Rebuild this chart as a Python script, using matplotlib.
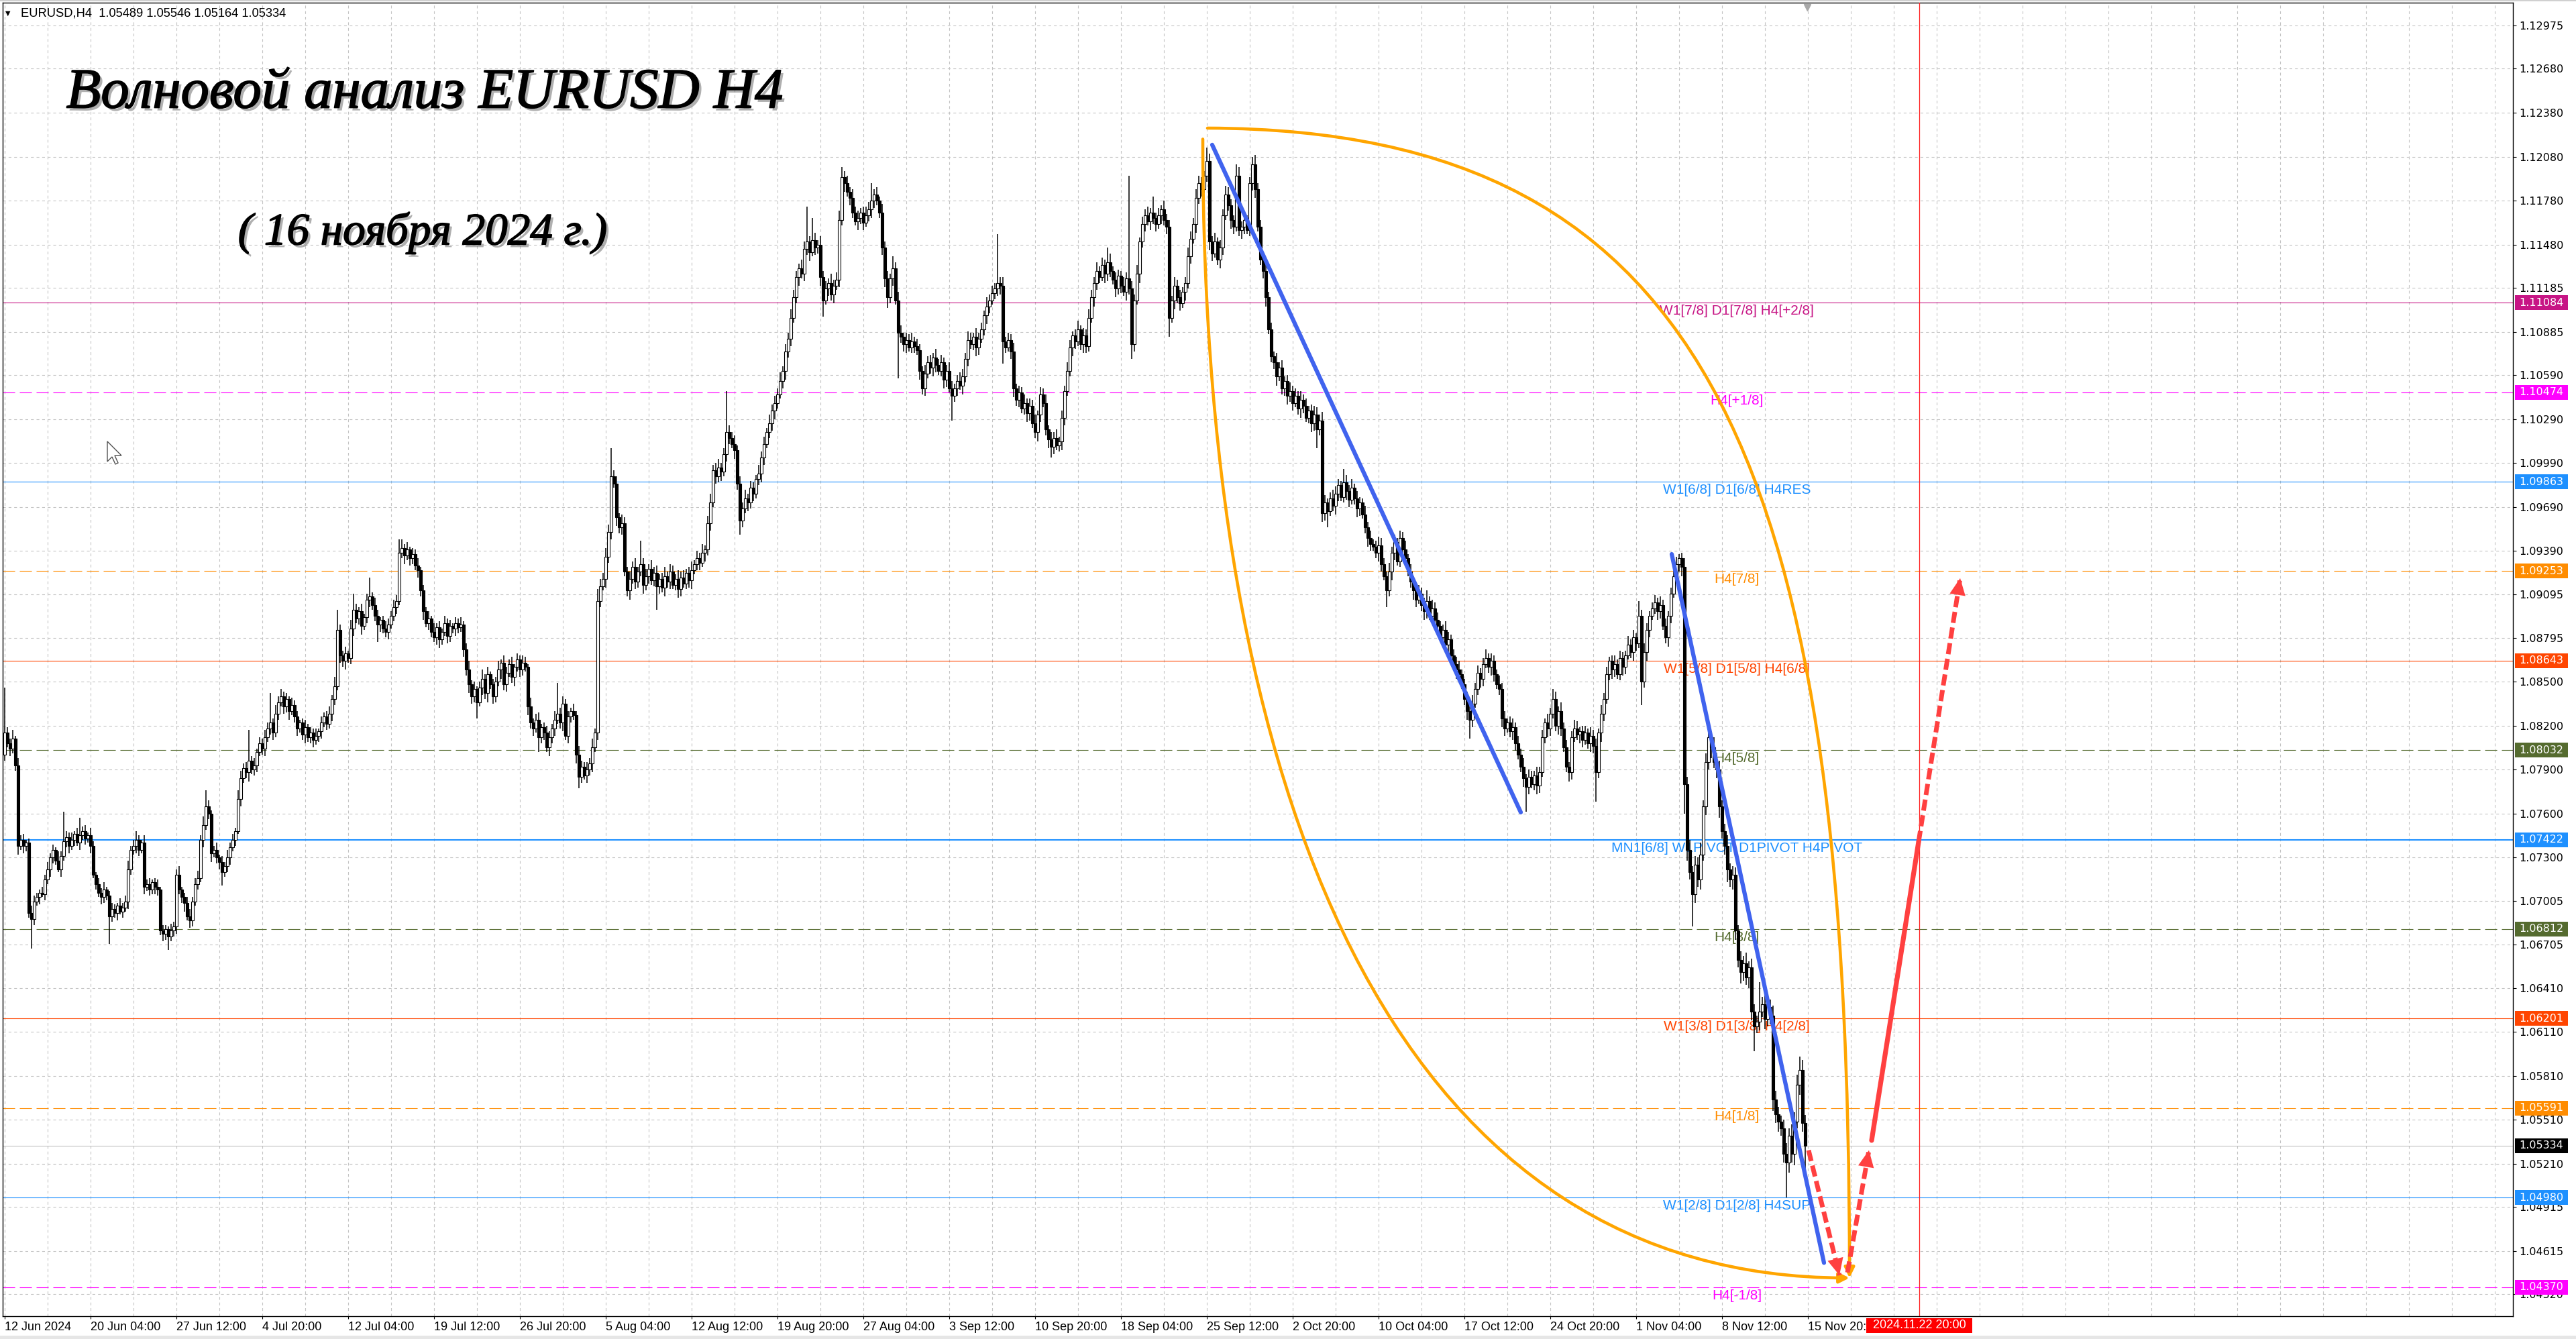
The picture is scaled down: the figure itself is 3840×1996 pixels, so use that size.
import numpy as np
import matplotlib
matplotlib.use("Agg")
import matplotlib.pyplot as plt
import matplotlib.patheffects as pe
import matplotlib.transforms as mtransforms
from matplotlib.path import Path
from matplotlib.patches import FancyArrowPatch, Rectangle, Polygon

plt.rcParams['lines.scale_dashes'] = False

# ------------------------------------------------------------------ data
HEADER = "EURUSD,H4  1.05489 1.05546 1.05164 1.05334"
TITLE = "Волновой анализ EURUSD H4"
SUBTITLE = "( 16 ноября 2024 г.)"
LAST_OHLC = [1.05489, 1.05546, 1.05164, 1.05334]
FIRST_OPEN_PIPS = 800          # price = 1 + pips/10000

# H4 closes (pips above 1.0000), one bar per 4 hours, 12 Jun 2024 .. 15 Nov 2024
CLOSE_PIPS = [
    815, 808, 804, 811, 793, 738, 742, 738, 740, 692, 688, 700, 703, 706, 705, 715, 722, 730, 735, 728, 722, 731, 741, 744,
    738, 742, 746, 740, 745, 748, 743, 745, 738, 718, 712, 706, 703, 708, 704, 690, 695, 692, 697, 693, 696, 700, 722, 735,
    738, 742, 735, 740, 710, 712, 708, 713, 710, 708, 680, 678, 681, 676, 680, 683, 718, 708, 703, 699, 690, 687, 700, 712,
    716, 742, 752, 765, 760, 733, 735, 730, 727, 720, 724, 730, 737, 742, 748, 770, 784, 791, 788, 796, 790, 793, 802, 808,
    804, 812, 818, 822, 815, 828, 836, 840, 833, 838, 830, 834, 826, 818, 822, 814, 819, 812, 815, 810, 813, 816, 822, 826,
    821, 828, 838, 847, 885, 868, 864, 869, 866, 886, 899, 893, 898, 888, 894, 906, 908, 902, 895, 889, 892, 886, 884, 889,
    895, 901, 905, 938, 941, 936, 940, 934, 937, 929, 926, 912, 898, 890, 893, 884, 880, 887, 879, 884, 890, 881, 888, 886,
    890, 887, 889, 872, 858, 848, 840, 845, 836, 846, 852, 842, 855, 848, 840, 850, 858, 863, 848, 856, 862, 853, 860, 865,
    858, 863, 860, 833, 822, 818, 824, 812, 819, 815, 805, 812, 818, 824, 828, 822, 835, 813, 826, 830, 827, 800, 785, 792,
    786, 790, 794, 805, 815, 905, 915, 920, 935, 952, 990, 985, 962, 955, 958, 925, 912, 920, 928, 918, 925, 930, 916, 922,
    927, 919, 924, 915, 920, 914, 922, 918, 925, 916, 920, 913, 921, 917, 924, 919, 926, 930, 934, 931, 938, 940, 958, 972,
    994, 990, 996, 993, 1005, 1020, 1016, 1012, 1008, 985, 960, 968, 975, 972, 982, 978, 988, 992, 1003, 1012, 1020, 1026, 1035, 1040,
    1046, 1055, 1062, 1075, 1084, 1098, 1112, 1126, 1132, 1128, 1145, 1150, 1143, 1151, 1146, 1148, 1126, 1110, 1118, 1122, 1114, 1120, 1124, 1165,
    1194, 1190, 1184, 1180, 1170, 1164, 1166, 1170, 1163, 1168, 1172, 1178, 1182, 1178, 1170, 1146, 1125, 1112, 1125, 1132, 1110, 1088, 1085, 1080,
    1083, 1078, 1082, 1079, 1076, 1062, 1050, 1060, 1068, 1064, 1071, 1066, 1062, 1068, 1056, 1062, 1050, 1045, 1050, 1055, 1052, 1058, 1070, 1083,
    1080, 1085, 1078, 1084, 1090, 1100, 1106, 1110, 1115, 1118, 1122, 1120, 1082, 1078, 1083, 1075, 1050, 1042, 1047, 1036, 1040, 1033, 1038, 1026,
    1020, 1032, 1046, 1040, 1022, 1015, 1010, 1016, 1011, 1014, 1030, 1048, 1062, 1078, 1086, 1082, 1090, 1080, 1086, 1079, 1098, 1112, 1122, 1130,
    1126, 1134, 1128, 1136, 1130, 1124, 1118, 1127, 1120, 1116, 1125, 1118, 1080, 1110, 1128, 1150, 1162, 1168, 1164, 1170, 1166, 1162, 1168, 1172,
    1165, 1160, 1098, 1110, 1120, 1112, 1108, 1116, 1122, 1140, 1152, 1162, 1180, 1190, 1186, 1195, 1205, 1150, 1142, 1150, 1138, 1146, 1168, 1182,
    1175, 1165, 1160, 1195, 1158, 1160, 1165, 1158, 1190, 1203, 1186, 1160, 1138, 1130, 1112, 1090, 1072, 1068, 1058, 1064, 1050, 1055, 1045, 1048,
    1040, 1045, 1036, 1042, 1038, 1030, 1035, 1026, 1032, 1022, 1028, 965, 972, 966, 975, 970, 978, 984, 976, 986, 980, 974, 982, 975,
    968, 972, 964, 955, 948, 944, 942, 938, 943, 930, 922, 912, 925, 938, 945, 932, 948, 940, 934, 925, 918, 912, 906, 910,
    902, 898, 905, 895, 900, 892, 888, 880, 885, 875, 879, 868, 862, 858, 855, 848, 838, 830, 824, 835, 845, 856, 852, 862,
    866, 860, 864, 855, 848, 845, 825, 818, 822, 816, 819, 808, 800, 792, 784, 778, 785, 780, 786, 779, 788, 812, 822, 818,
    828, 838, 820, 830, 818, 805, 792, 788, 812, 818, 814, 816, 810, 815, 808, 813, 806, 788, 815, 828, 838, 855, 864, 858,
    862, 855, 866, 860, 868, 875, 870, 880, 876, 895, 850, 870, 885, 895, 900, 904, 898, 902, 888, 880, 895, 910, 922, 930,
    934, 928, 780, 735, 720, 705, 725, 715, 732, 765, 795, 812, 805, 795, 790, 765, 748, 738, 722, 715, 718, 680, 660, 652,
    658, 648, 655, 625, 615, 618, 625, 630, 620, 628, 622, 565, 555, 550, 545, 528, 522, 540, 528, 550, 575, 585, 548.9, 533.4,
]
# upper / lower shadow beyond the body, in pips
WICK_UP_PIPS = [
    31, 4, 3, 6, 2, 5, 3, 4, 2, 3, 5, 4, 3, 2, 4, 3, 5, 3, 4, 2, 6, 3, 20, 4,
    3, 5, 2, 4, 12, 3, 4, 2, 5, 3, 2, 4, 3, 5, 2, 3, 4, 3, 2, 5, 3, 4, 6, 3,
    4, 6, 3, 2, 5, 3, 4, 2, 3, 5, 2, 4, 3, 2, 5, 3, 4, 6, 2, 3, 4, 5, 3, 4,
    5, 3, 6, 11, 4, 2, 3, 5, 2, 4, 3, 5, 3, 4, 2, 6, 5, 3, 4, 21, 3, 5, 2, 4,
    3, 5, 4, 20, 3, 6, 4, 5, 3, 4, 2, 5, 3, 4, 2, 3, 5, 2, 4, 3, 5, 2, 4, 3,
    4, 5, 3, 6, 14, 4, 3, 5, 2, 6, 11, 4, 3, 5, 2, 4, 13, 3, 5, 4, 2, 3, 5, 4,
    3, 5, 4, 9, 6, 3, 5, 2, 4, 3, 5, 2, 4, 3, 5, 2, 6, 3, 4, 2, 5, 3, 4, 2,
    4, 3, 5, 2, 4, 6, 3, 5, 2, 4, 6, 3, 5, 2, 4, 3, 6, 2, 5, 4, 3, 5, 2, 4,
    3, 5, 4, 2, 6, 3, 4, 5, 2, 3, 5, 4, 3, 6, 21, 4, 5, 3, 4, 2, 5, 3, 6, 4,
    3, 5, 4, 6, 3, 8, 5, 4, 6, 5, 19, 4, 5, 3, 6, 4, 3, 5, 4, 6, 3, 16, 4, 5,
    3, 6, 4, 5, 3, 4, 6, 3, 5, 4, 3, 6, 4, 5, 3, 4, 6, 3, 5, 4, 6, 3, 5, 6,
    4, 5, 6, 3, 4, 28, 5, 4, 6, 3, 5, 4, 6, 3, 5, 4, 3, 6, 4, 5, 3, 6, 4, 5,
    4, 6, 3, 5, 4, 6, 5, 4, 3, 6, 5, 24, 4, 15, 5, 3, 6, 4, 5, 3, 6, 4, 5, 6,
    7, 4, 5, 3, 6, 4, 5, 3, 4, 6, 5, 12, 4, 5, 3, 6, 4, 5, 3, 8, 4, 6, 5, 3,
    5, 4, 6, 3, 5, 4, 3, 6, 4, 5, 3, 6, 4, 5, 3, 4, 6, 5, 3, 4, 6, 5, 4, 6,
    5, 3, 6, 4, 5, 3, 6, 4, 5, 4, 33, 4, 6, 3, 5, 4, 6, 3, 5, 4, 6, 3, 5, 4,
    6, 3, 5, 4, 6, 3, 5, 4, 6, 3, 5, 4, 6, 5, 3, 4, 6, 3, 5, 4, 6, 5, 4, 6,
    3, 5, 4, 10, 6, 3, 5, 4, 3, 6, 4, 70, 5, 4, 6, 3, 5, 4, 6, 3, 11, 4, 5, 3,
    6, 4, 5, 3, 6, 4, 5, 3, 4, 6, 5, 4, 6, 5, 4, 3, 9, 5, 4, 6, 3, 5, 4, 6,
    5, 4, 3, 8, 6, 4, 5, 3, 4, 5, 6, 4, 5, 3, 6, 4, 5, 3, 6, 4, 5, 3, 4, 6,
    4, 5, 3, 6, 4, 5, 3, 4, 6, 5, 4, 6, 5, 3, 4, 6, 5, 4, 3, 9, 5, 4, 6, 3,
    5, 4, 3, 6, 4, 5, 3, 4, 6, 5, 4, 3, 6, 4, 5, 3, 5, 4, 6, 3, 5, 4, 3, 6,
    4, 5, 7, 3, 6, 4, 5, 3, 4, 6, 5, 3, 4, 5, 6, 3, 4, 5, 3, 6, 4, 5, 3, 4,
    6, 3, 5, 4, 3, 6, 4, 5, 3, 4, 6, 3, 5, 4, 6, 3, 5, 4, 3, 6, 4, 5, 3, 6,
    4, 7, 5, 3, 6, 4, 5, 3, 4, 6, 5, 3, 4, 5, 3, 6, 4, 5, 3, 6, 4, 5, 3, 4,
    6, 3, 5, 4, 3, 6, 4, 5, 3, 10, 4, 6, 5, 3, 4, 5, 3, 6, 4, 5, 3, 4, 6, 5,
    3, 4, 6, 5, 7, 4, 6, 5, 8, 4, 6, 5, 4, 7, 5, 6, 4, 5, 7, 4, 6, 5, 4, 6,
    5, 7, 4, 6, 5, 4, 20, 5, 6, 4, 5, 7, 6, 5, 4, 6, 7, 5, 8, 6, 7, 9, 7, 6,
]
WICK_DN_PIPS = [
    4, 3, 5, 3, 4, 6, 3, 5, 4, 3, 20, 4, 3, 5, 2, 4, 3, 5, 4, 3, 2, 5, 3, 4,
    5, 3, 4, 2, 5, 3, 4, 3, 5, 2, 4, 3, 5, 4, 3, 19, 4, 3, 5, 2, 4, 3, 5, 4,
    3, 5, 4, 2, 5, 3, 4, 3, 5, 4, 3, 5, 4, 9, 3, 4, 5, 3, 4, 6, 3, 5, 4, 3,
    4, 3, 5, 3, 4, 6, 3, 4, 5, 9, 3, 4, 5, 3, 4, 2, 5, 3, 4, 6, 3, 4, 5, 3,
    4, 5, 3, 4, 5, 3, 4, 3, 5, 4, 6, 3, 4, 5, 3, 4, 6, 3, 4, 5, 3, 4, 5, 3,
    4, 3, 5, 4, 3, 5, 4, 6, 3, 4, 5, 3, 4, 6, 3, 4, 5, 3, 4, 12, 5, 3, 4, 5,
    3, 4, 5, 3, 4, 6, 3, 5, 4, 3, 5, 4, 6, 3, 5, 4, 3, 5, 6, 4, 3, 5, 4, 3,
    5, 4, 3, 5, 4, 6, 5, 4, 11, 3, 5, 4, 6, 3, 5, 4, 3, 6, 4, 5, 3, 4, 6, 3,
    5, 4, 3, 6, 4, 5, 3, 10, 4, 5, 3, 6, 4, 5, 3, 4, 6, 3, 5, 4, 3, 6, 8, 4,
    3, 5, 4, 6, 3, 5, 4, 3, 6, 4, 5, 3, 6, 4, 5, 3, 4, 6, 3, 5, 4, 3, 6, 4,
    5, 3, 4, 16, 5, 3, 6, 4, 5, 3, 4, 6, 5, 3, 4, 5, 6, 3, 4, 5, 3, 6, 4, 5,
    3, 5, 4, 6, 3, 5, 4, 3, 6, 4, 10, 5, 3, 6, 4, 5, 3, 4, 6, 5, 3, 4, 5, 6,
    4, 3, 5, 6, 4, 5, 3, 4, 6, 3, 5, 4, 6, 3, 5, 4, 6, 11, 3, 5, 4, 6, 3, 5,
    4, 6, 3, 5, 4, 3, 6, 4, 5, 3, 4, 6, 5, 3, 4, 5, 6, 7, 4, 5, 3, 31, 4, 5,
    6, 3, 4, 5, 3, 6, 4, 5, 3, 4, 6, 5, 3, 4, 6, 5, 3, 17, 4, 5, 3, 6, 4, 5,
    3, 4, 6, 5, 3, 4, 6, 5, 3, 4, 5, 6, 15, 4, 3, 5, 6, 4, 5, 3, 4, 6, 5, 3,
    4, 6, 5, 3, 4, 6, 7, 5, 3, 4, 6, 5, 3, 4, 6, 5, 3, 4, 6, 5, 4, 3, 6, 5,
    4, 3, 6, 5, 4, 3, 6, 4, 5, 3, 6, 4, 10, 5, 3, 6, 4, 5, 3, 6, 4, 5, 3, 6,
    4, 5, 13, 3, 6, 4, 5, 3, 6, 4, 5, 3, 6, 4, 5, 3, 4, 6, 5, 3, 4, 6, 5, 3,
    4, 6, 5, 3, 4, 6, 5, 3, 4, 5, 6, 3, 4, 5, 6, 3, 4, 5, 6, 3, 4, 5, 6, 4,
    5, 3, 4, 6, 5, 3, 4, 6, 5, 13, 4, 6, 5, 11, 3, 4, 6, 5, 3, 4, 6, 5, 3, 4,
    6, 5, 3, 4, 6, 5, 3, 4, 6, 5, 3, 11, 4, 6, 5, 3, 4, 6, 5, 3, 4, 6, 5, 3,
    4, 6, 5, 3, 4, 6, 5, 3, 4, 6, 5, 3, 4, 6, 5, 3, 4, 6, 13, 5, 3, 4, 6, 5,
    3, 4, 6, 5, 3, 4, 6, 5, 3, 4, 6, 5, 3, 4, 6, 17, 5, 3, 4, 6, 5, 3, 4, 6,
    5, 3, 4, 6, 5, 3, 4, 6, 5, 3, 4, 6, 5, 3, 4, 6, 5, 20, 4, 6, 5, 3, 4, 6,
    5, 3, 4, 6, 5, 3, 4, 6, 5, 3, 16, 4, 6, 5, 3, 4, 6, 5, 3, 4, 6, 5, 3, 4,
    5, 6, 20, 7, 5, 22, 6, 5, 7, 4, 6, 5, 7, 4, 6, 8, 5, 6, 9, 5, 7, 6, 5, 8,
    6, 5, 7, 6, 17, 5, 6, 4, 7, 5, 6, 8, 6, 7, 5, 6, 24, 7, 6, 8, 5, 7, 6, 17,
]

X_LABELS = ["12 Jun 2024", "20 Jun 04:00", "27 Jun 12:00", "4 Jul 20:00", "12 Jul 04:00",
            "19 Jul 12:00", "26 Jul 20:00", "5 Aug 04:00", "12 Aug 12:00", "19 Aug 20:00",
            "27 Aug 04:00", "3 Sep 12:00", "10 Sep 20:00", "18 Sep 04:00", "25 Sep 12:00",
            "2 Oct 20:00", "10 Oct 04:00", "17 Oct 12:00", "24 Oct 20:00", "1 Nov 04:00",
            "8 Nov 12:00", "15 Nov 20:00"]
BARS_PER_LABEL = 32

Y_TICKS = [1.12975, 1.12680, 1.12380, 1.12080, 1.11780, 1.11480, 1.11185, 1.10885, 1.10590,
           1.10290, 1.09990, 1.09690, 1.09390, 1.09095, 1.08795, 1.08500, 1.08200, 1.07900,
           1.07600, 1.07300, 1.07005, 1.06705, 1.06410, 1.06110, 1.05810, 1.05510, 1.05210,
           1.04915, 1.04615, 1.04320]

LEVEL_PRICES = [1.11084, 1.10474, 1.09863, 1.09253, 1.08643, 1.08032, 1.07422,
                1.06812, 1.06201, 1.05591, 1.04980, 1.04370]
LEVEL_NAMES = ["W1[7/8] D1[7/8] H4[+2/8]", "H4[+1/8]", "W1[6/8] D1[6/8] H4RES", "H4[7/8]",
               "W1[5/8] D1[5/8] H4[6/8]", "H4[5/8]", "MN1[6/8] W1PIVOT D1PIVOT H4PIVOT",
               "H4[3/8]", "W1[3/8] D1[3/8] H4[2/8]", "H4[1/8]", "W1[2/8] D1[2/8] H4SUP", "H4[-1/8]"]
LEVEL_COLORS = ["#C71585", "#FF00FF", "#1E90FF", "#FF8C00", "#FF4500", "#556B2F", "#1E90FF",
                "#556B2F", "#FF4500", "#FF8C00", "#1E90FF", "#FF00FF"]
LEVEL_DASHED = [False, True, False, True, False, True, False, True, False, True, False, True]
LEVEL_LW = [0.8, 0.8, 0.8, 0.8, 0.8, 0.8, 1.5, 0.8, 0.8, 0.8, 0.8, 0.8]
LABEL_BAR = 645.5

BID_PRICE = 1.05334
FUTURE_DATE_LABEL = "2024.11.22 20:00"
FUTURE_DATE_BAR = 713.5

# hand-drawn chart objects, (bar index, price)
TREND_1 = [(450.0, 1.12161), (565.0, 1.07608)]
TREND_2 = [(621.25, 1.09369), (678.0, 1.04535)]
ARC_OUTER = [(448.25, 1.12275), (638.25, 1.12265), (687.5, 1.09923), (687.5, 1.04432)]
ARC_INNER = [(446.5, 1.12200), (446.5, 1.07447), (525.0, 1.04432), (687.5, 1.04432)]
RED_DOWN = [(672.25, 1.05303), (683.75, 1.04450)]
RED_UP = [(686.75, 1.04469), (694.75, 1.05303)]
RED_MAIN_SOLID = [(695.75, 1.05370), (713.25, 1.07406)]
RED_MAIN_DASH = [(713.25, 1.07406), (728.75, 1.09205)]

# ------------------------------------------------------------------ figure
W, H, DPI = 3840, 1996, 100
fig = plt.figure(figsize=(W / DPI, H / DPI), dpi=DPI, facecolor="white")
PL, PR, PT, PB = 4, 3746, 4, 1962
ax = fig.add_axes([PL / W, 1 - PB / H, (PR - PL) / W, (PB - PT) / H])
ax.set_xlim(-0.75, 934.75)
ax.set_ylim(1.04171, 1.131306)
ax.set_facecolor("white")
for s in ax.spines.values():
    s.set_color("black")
    s.set_linewidth(1.0)

GRID_C = "#C4C4C4"
for yv in Y_TICKS:
    ax.axhline(yv, color=GRID_C, lw=0.8, ls=(0, (3, 3)), zorder=1)
for xv in range(0, 935, BARS_PER_LABEL // 2):
    ax.axvline(xv, color=GRID_C, lw=0.8, ls=(0, (3, 3)), zorder=1)

# level lines + names
lab_tr = mtransforms.offset_copy(ax.transData, fig=fig, y=-3, units="dots")
for p, nm, c, d, lw in zip(LEVEL_PRICES, LEVEL_NAMES, LEVEL_COLORS, LEVEL_DASHED, LEVEL_LW):
    ax.axhline(p, color=c, lw=lw, ls=(0, (13, 5)) if d else "-", zorder=2)
    ax.text(LABEL_BAR, p, nm, color=c, fontsize=15, family="Liberation Sans",
            ha="center", va="top", transform=lab_tr, zorder=2.5)
ax.axhline(BID_PRICE, color="#C0C0C0", lw=0.8, zorder=2)

# candles
n = min(len(CLOSE_PIPS), len(WICK_UP_PIPS), len(WICK_DN_PIPS))
close = 1 + np.array(CLOSE_PIPS[:n], float) / 1e4
opn = np.r_[1 + FIRST_OPEN_PIPS / 1e4, close[:-1]]
opn[-1], close[-1] = LAST_OHLC[0], LAST_OHLC[3]
high = np.maximum(opn, close) + np.array(WICK_UP_PIPS[:n]) / 1e4
low = np.minimum(opn, close) - np.array(WICK_DN_PIPS[:n]) / 1e4
high[-1], low[-1] = LAST_OHLC[1], LAST_OHLC[2]
xb = np.arange(n)
ax.vlines(xb, low, high, color="black", lw=1.1, zorder=3)
bull = close >= opn
body_h = np.maximum(np.abs(close - opn), 0.00005)
bottoms = np.minimum(opn, close)
ax.bar(xb[bull], body_h[bull], bottom=bottoms[bull], width=0.78, facecolor="white",
       edgecolor="black", linewidth=0.8, zorder=3.2)
ax.bar(xb[~bull], body_h[~bull], bottom=bottoms[~bull], width=0.78, facecolor="black",
       edgecolor="black", linewidth=0.8, zorder=3.2)

# red vertical (future time marker)
ax.axvline(FUTURE_DATE_BAR, color="#FF2020", lw=0.9, zorder=2.6)

# blue trend lines
BLUE = "#4063EE"
for tl in (TREND_1, TREND_2):
    ax.plot([tl[0][0], tl[1][0]], [tl[0][1], tl[1][1]], color=BLUE, lw=4.5,
            solid_capstyle="round", zorder=5)

# orange arcs with arrowheads
ORANGE = "#FFA500"
for pts in (ARC_OUTER, ARC_INNER):
    path = Path(pts, [Path.MOVETO, Path.CURVE4, Path.CURVE4, Path.CURVE4])
    ax.add_patch(FancyArrowPatch(path=path, arrowstyle="-|>,head_length=0.9,head_width=0.45",
                                 mutation_scale=10, color=ORANGE, lw=3.3, transform=ax.transData,
                                 zorder=5))

# red arrows
RED = "#FF4040"
def red_head(seg):
    (x0, y0), (x1, y1) = seg
    xs, ys = x1 - 0.15 * (x1 - x0), y1 - 0.15 * (y1 - y0)
    ax.annotate("", xy=(x1, y1), xytext=(xs, ys),
                arrowprops=dict(arrowstyle="-|>,head_length=1.8,head_width=0.85", color=RED,
                                lw=0.01, shrinkA=0, shrinkB=0, mutation_scale=10), zorder=6)

for seg in (RED_DOWN, RED_UP, RED_MAIN_DASH):
    ax.plot([seg[0][0], seg[1][0]], [seg[0][1], seg[1][1]], color=RED, lw=5,
            ls=(0, (12, 5)), zorder=6)
    red_head(seg)
ax.plot([RED_MAIN_SOLID[0][0], RED_MAIN_SOLID[1][0]],
        [RED_MAIN_SOLID[0][1], RED_MAIN_SOLID[1][1]], color=RED, lw=5.2,
        solid_capstyle="round", zorder=6)

# ------------------------------------------------------------------ axes
ax.yaxis.tick_right()
ax.set_yticks(Y_TICKS)
ax.set_yticklabels([f"{v:.5f}" for v in Y_TICKS])
ax.tick_params(axis="y", direction="out", length=3.6, width=0.8, pad=3, labelsize=11.5,
               colors="black")
for t in ax.get_yticklabels():
    t.set_family("DejaVu Sans")

xt = [BARS_PER_LABEL * k for k in range(len(X_LABELS))]
ax.set_xticks(xt)
ax.set_xticklabels(X_LABELS, ha="left", family="Liberation Sans", fontsize=13)
ax.tick_params(axis="x", direction="out", length=3, width=0.8, pad=3, colors="black")

# price boxes on the right scale
bt = mtransforms.blended_transform_factory(ax.transAxes, ax.transData)
axw = PR - PL
px_per_price = (PB - PT) / (1.131306 - 1.04171)
hh = 11 / px_per_price
box_prices = LEVEL_PRICES + [BID_PRICE]
box_colors = LEVEL_COLORS + ["black"]
for p, c in zip(box_prices, box_colors):
    ax.add_patch(Rectangle(((3749 - PL) / axw, p - hh), 79 / axw, 2 * hh, transform=bt,
                           facecolor=c, edgecolor="none", clip_on=False, zorder=7))
    ax.text((3755 - PL) / axw, p, f"{p:.5f}", transform=bt, color="white", fontsize=11.5,
            family="DejaVu Sans", ha="left", va="center", clip_on=False, zorder=8)

# future date box on the time scale
fig.canvas.draw()
renderer = fig.canvas.get_renderer()
xd, _ = ax.transData.transform((FUTURE_DATE_BAR, 1.08))
fig.add_artist(Rectangle(((xd - 79) / W, 1 - 1987 / H), 158 / W, 22 / H, transform=fig.transFigure,
                         facecolor="#FF0000", edgecolor="none", zorder=10))
fig.text(xd / W, 1 - 1976 / H, FUTURE_DATE_LABEL, color="white", fontsize=13,
         family="Liberation Sans", ha="center", va="center", zorder=11)

# shift marker at the top
ax.plot([671.75], [1.1310], marker="v", ms=7, color="#A8A8A8", clip_on=False, zorder=8)

# header
fig.text(8 / W, 1 - 20 / H, "▼", fontsize=7, family="DejaVu Sans", va="center", color="black")
fig.text(31 / W, 1 - 20 / H, HEADER, fontsize=13.2, family="Liberation Sans", va="center",
         color="black")

# titles (fit to measured widths)
def fit_text(cx, cy, s, target_w):
    t = fig.text(cx / W, 1 - cy / H, s, fontsize=50, family="Liberation Serif", style="italic",
                 ha="center", va="center", color="black", zorder=12,
                 path_effects=[pe.SimplePatchShadow(offset=(3, -3), shadow_rgbFace="#505050",
                                                    alpha=0.45),
                               pe.Stroke(linewidth=1.2, foreground="black"), pe.Normal()])
    w = t.get_window_extent(renderer).width
    t.set_fontsize(50 * target_w / w)
    return t

fit_text(633, 140, TITLE, 1070)
fit_text(630, 347, SUBTITLE, 551)

# mouse pointer
cx0, cy0 = 160, 658
shape = [(0, 0), (0, 30), (7, 23), (12, 34), (16, 32), (11, 21), (21, 21)]
fig.add_artist(Polygon([(cx0 + dx, H - (cy0 + dy)) for dx, dy in shape], closed=True,
                       transform=mtransforms.IdentityTransform(), facecolor="white",
                       edgecolor="#505050", lw=1.0, zorder=12))

# window frame bands
fig.add_artist(Rectangle((0, 1 - 2 / H), 1, 2 / H, transform=fig.transFigure,
                         facecolor="#D0D0D0", edgecolor="none"))
fig.add_artist(Rectangle((0, 0), 1, 5 / H, transform=fig.transFigure,
                         facecolor="#E6E6E6", edgecolor="none"))

fig.savefig("out.png", dpi=DPI)
